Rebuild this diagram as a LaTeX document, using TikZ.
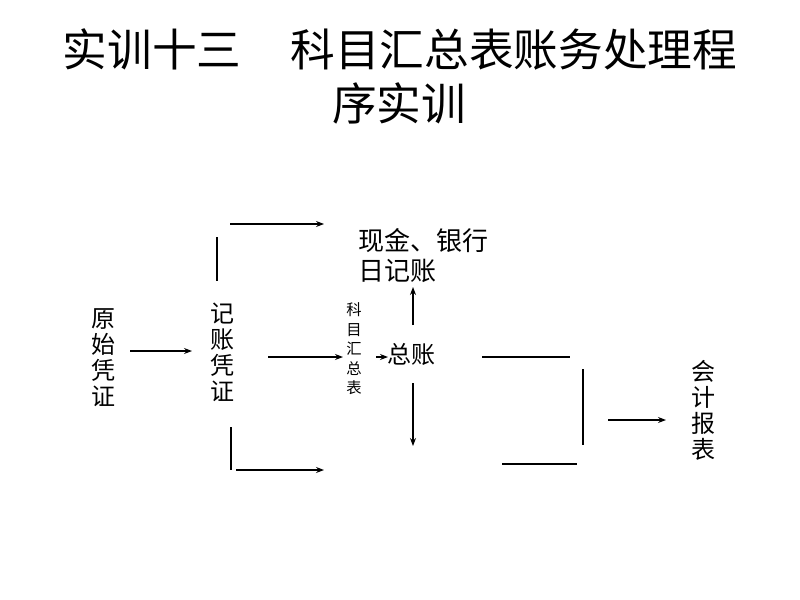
\documentclass[tikz,border=0pt]{standalone}
\usepackage{fontspec}
\setmainfont{Noto Sans CJK SC}
\usetikzlibrary{arrows.meta}
\tikzset{
  lbl/.style={inner sep=0pt, align=center, font=\fontsize{18}{19.5}\selectfont},
  small/.style={inner sep=0pt, align=center, font=\fontsize{11.5}{14.6}\selectfont},
  ln/.style={line width=0.8pt},
  arr/.style={ln, -{Stealth[length=6pt,width=4.5pt]}},
}
\begin{document}
\begin{tikzpicture}[x=0.75pt,y=-0.75pt]
\useasboundingbox[fill=white] (0,0) rectangle (800,600);
% title
\node[inner sep=0pt, font=\fontsize{33.5}{41}\selectfont] (t1) at (400,49) {实训十三\hspace{37pt}科目汇总表账务处理程};
\node[inner sep=0pt, font=\fontsize{33.5}{41}\selectfont] (t2) at (399,103) {序实训};
% nodes
\node[lbl] (yspz) at (103,358) {原\\始\\凭\\证};
\node[lbl] (jzpz) at (222,352) {记\\账\\凭\\证};
\node[small] (kmhzb) at (354,349) {科\\目\\汇\\总\\表};
\node[lbl, font=\fontsize{18}{19.5}\selectfont] (zz) at (411,354) {总账};
\node[lbl, align=left, anchor=west, font=\fontsize{19.5}{22.5}\selectfont] (xj) at (358,256) {现金、银行\\日记账};
\node[lbl] (kjbb) at (703,410) {会\\计\\报\\表};
% coordinates
\coordinate (a1) at (130,351);
\coordinate (a2) at (192,351);
\coordinate (v1t) at (217,237);
\coordinate (v1b) at (217,281);
\coordinate (h1s) at (230,224);
\coordinate (h1e) at (324,224);
\coordinate (v2t) at (231,427);
\coordinate (v2b) at (231,470);
\coordinate (h2s) at (236,470);
\coordinate (h2e) at (324,470);
\coordinate (m1) at (268,357);
\coordinate (m2) at (343,357);
\coordinate (s1) at (376,357);
\coordinate (s2) at (388,357);
\coordinate (u1) at (413,325);
\coordinate (u2) at (413,287);
\coordinate (d1) at (413,383);
\coordinate (d2) at (413,446);
\coordinate (r1s) at (482,357);
\coordinate (r1e) at (570,357);
\coordinate (rvt) at (583,369);
\coordinate (rvb) at (583,445);
\coordinate (r2s) at (502,464);
\coordinate (r2e) at (577,464);
\coordinate (f1) at (608,420);
\coordinate (f2) at (666,420);
% connectors
\draw[arr] (a1) -- (a2);
\draw[ln] (v1t) -- (v1b);
\draw[arr] (h1s) -- (h1e);
\draw[ln] (v2t) -- (v2b);
\draw[arr] (h2s) -- (h2e);
\draw[arr] (m1) -- (m2);
\draw[arr] (s1) -- (s2);
\draw[arr] (u1) -- (u2);
\draw[arr] (d1) -- (d2);
\draw[ln] (r1s) -- (r1e);
\draw[ln] (rvt) -- (rvb);
\draw[ln] (r2s) -- (r2e);
\draw[arr] (f1) -- (f2);
\end{tikzpicture}
\end{document}
